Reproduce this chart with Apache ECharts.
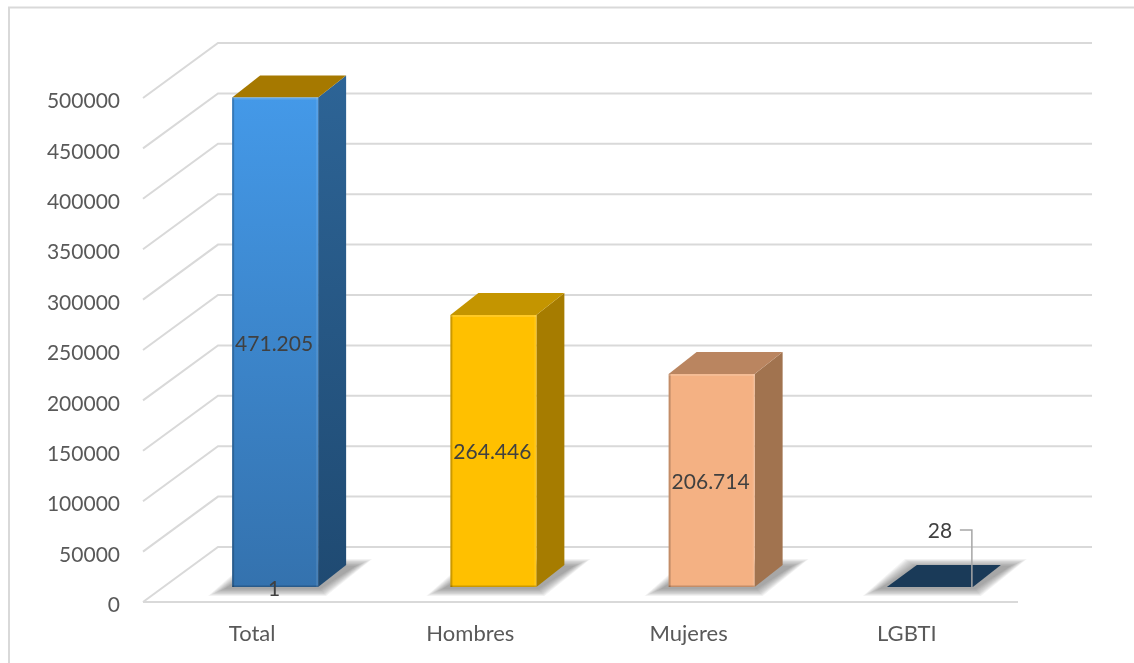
<!DOCTYPE html>
<html>
<head>
<meta charset="utf-8">
<style>html,body{margin:0;padding:0;background:#fff}#c{width:1134px;height:663px}</style>
<script src="https://cdn.jsdelivr.net/npm/echarts@6/dist/echarts.min.js"></script>
</head>
<body>
<div id="c"></div>
<script>
var categories = ['Total', 'Hombres', 'Mujeres', 'LGBTI'];
var barHeights = [485600, 269800, 211300, 28];
var dataLabels = ['471.205', '264.446', '206.714', '28'];
var baseLabels = ['1', '', '', ''];
var axisTicks = [0, 50000, 100000, 150000, 200000, 250000, 300000, 350000, 400000, 450000, 500000];

var frontTop = ['#4499e8', '#ffc000', '#f4b183', '#1a3a58'];
var frontBottom = ['#3472ae', '#ffc000', '#f4b183', '#1a3a58'];
var sideTop = ['#2d6496', '#a67c00', '#a1734f', '#1a3a58'];
var sideBottom = ['#1f4a72', '#a67c00', '#a1734f', '#1a3a58'];
var capColor = ['#a67900', '#c49500', '#ba8560', '#1a3a58'];

var DX = 28, DY = -22, FLOOR = 15, WALLX = 75, WALLY = -55, BARW = 86, SHIFT = 23, EXTRA = 2;
var FONT = 'Lato';

function poly(pts, style, z2) {
  return { type: 'polygon', shape: { points: pts }, style: style, z2: z2 || 0, silent: true };
}

function renderWall(params, api) {
  var cs = params.coordSys;
  var v = api.value(0);
  var y = api.coord([0, v])[1];
  var x0 = cs.x, x1 = cs.x + cs.width + EXTRA;
  var st = { stroke: '#d9d9d9', lineWidth: 2, fill: null };
  var kids = [
    { type: 'polyline', shape: { points: [[x0, y], [x0 + WALLX, y + WALLY], [x1 + WALLX - 1, y + WALLY]] }, style: st, silent: true }
  ];
  if (v === 0) {
    kids.push({ type: 'line', shape: { x1: x0, y1: y, x2: x1, y2: y }, style: { stroke: '#d9d9d9', lineWidth: 2 }, silent: true });
  }
  return { type: 'group', children: kids };
}

function renderBar(params, api) {
  var i = api.value(0), h = api.value(1);
  var base = api.coord([i, 0]), top = api.coord([i, h]);
  var xc = base[0] + SHIFT;
  var xl = xc - BARW / 2, xr = xc + BARW / 2;
  var yb = base[1] - FLOOR, yt = top[1] - FLOOR;
  var tall = yb - yt > 5;
  var LG = echarts.graphic.LinearGradient;
  var kids = [];
  // soft floor shadow built from layered translucent parallelograms
  for (var s = 10; s >= 0; s -= 1) {
    kids.push(poly([
      [xl - 8 - s * 1.6, yb + 2 + s * 0.7],
      [xr + 2 + s * 0.6, yb + 2 + s * 0.7],
      [xr + DX + 10 + s * 1.6, yb + DY + 1 - s * 0.7],
      [xl + DX - s, yb + DY + 1 - s * 0.7]
    ], { fill: 'rgba(110,110,110,0.075)' }, 1));
  }
  if (tall) {
    kids.push(poly([[xr, yt], [xr + DX, yt + DY], [xr + DX, yb + DY], [xr, yb]], {
      fill: new LG(0, 0, 0, 1, [{ offset: 0, color: sideTop[i] }, { offset: 1, color: sideBottom[i] }])
    }, 2));
    kids.push(poly([[xl, yt], [xl + DX, yt + DY], [xr + DX, yt + DY], [xr, yt]], { fill: capColor[i] }, 2));
    kids.push({ type: 'rect', shape: { x: xl, y: yt, width: BARW, height: yb - yt },
      style: { fill: new LG(0, 0, 0, 1, [{ offset: 0, color: frontTop[i] }, { offset: 1, color: frontBottom[i] }]) }, z2: 3, silent: true });
    // bevel edges
    kids.push({ type: 'rect', shape: { x: xl, y: yt, width: 2, height: yb - yt }, style: { fill: 'rgba(0,0,0,0.2)' }, z2: 4, silent: true });
    kids.push({ type: 'rect', shape: { x: xr - 2, y: yt, width: 2, height: yb - yt }, style: { fill: 'rgba(255,255,255,0.1)' }, z2: 4, silent: true });
    kids.push({ type: 'rect', shape: { x: xl, y: yt, width: BARW, height: 2 }, style: { fill: 'rgba(255,255,255,0.14)' }, z2: 4, silent: true });
    kids.push({ type: 'rect', shape: { x: xl, y: yb - 1.5, width: BARW, height: 1.5 }, style: { fill: 'rgba(0,0,0,0.2)' }, z2: 4, silent: true });
    kids.push({ type: 'text', x: xc - 1, y: (yt + yb) / 2 + 1.5, z2: 6, silent: true,
      style: { text: dataLabels[i], fill: '#404040', font: '21px ' + FONT, align: 'center', verticalAlign: 'middle' } });
  } else {
    kids.push(poly([[xl, yb], [xl + DX + 2, yb + DY], [xr + DX, yb + DY], [xr, yb]], { fill: capColor[i] }, 2));
    kids.push({ type: 'polyline', shape: { points: [[xr - 13, yt - 57], [xr - 1, yt - 57], [xr - 1, yb]] },
      style: { stroke: '#a6a6a6', lineWidth: 1.5, fill: null }, z2: 5, silent: true });
    kids.push({ type: 'text', x: xr - 33, y: yt - 56, z2: 6, silent: true,
      style: { text: dataLabels[i], fill: '#404040', font: '21px ' + FONT, align: 'center', verticalAlign: 'middle' } });
  }
  if (baseLabels[i]) {
    kids.push({ type: 'text', x: xc - 1, y: yb + 2, z2: 6, silent: true,
      style: { text: baseLabels[i], fill: '#404040', font: '21px ' + FONT, align: 'center', verticalAlign: 'middle' } });
  }
  return { type: 'group', children: kids };
}

var chart = echarts.init(document.getElementById('c'), null, { renderer: 'canvas' });
chart.setOption({
  animation: false,
  backgroundColor: '#fff',
  grid: { left: 143, right: 118, top: 98, bottom: 61, containLabel: false },
  graphic: [
    { type: 'polyline', silent: true, shape: { points: [[9, 663], [9, 7.5], [1134, 7.5]] }, style: { stroke: '#d9d9d9', lineWidth: 2, fill: null } }
  ],
  xAxis: {
    type: 'category', data: categories,
    axisLine: { show: false }, axisTick: { show: false }, splitLine: { show: false },
    axisLabel: { color: '#595959', fontFamily: FONT, fontSize: 22, margin: 21 }
  },
  yAxis: {
    type: 'value', min: 0, max: 500000, interval: 50000,
    axisLine: { show: false }, axisTick: { show: false }, splitLine: { show: false },
    axisLabel: { color: '#595959', fontFamily: FONT, fontSize: 21, margin: 23, verticalAlign: 'top', lineHeight: 7,
      formatter: function (v) { return String(v); } }
  },
  series: [
    { type: 'custom', name: 'wall', silent: true, z: 1, clip: false, renderItem: renderWall,
      data: axisTicks.map(function (t) { return [t]; }), encode: { y: 0 } },
    { type: 'custom', name: 'bars', silent: true, z: 2, clip: false, renderItem: renderBar,
      data: barHeights.map(function (v, i) { return [i, v]; }), encode: { x: 0, y: 1 } }
  ]
});
</script>
</body>
</html>
